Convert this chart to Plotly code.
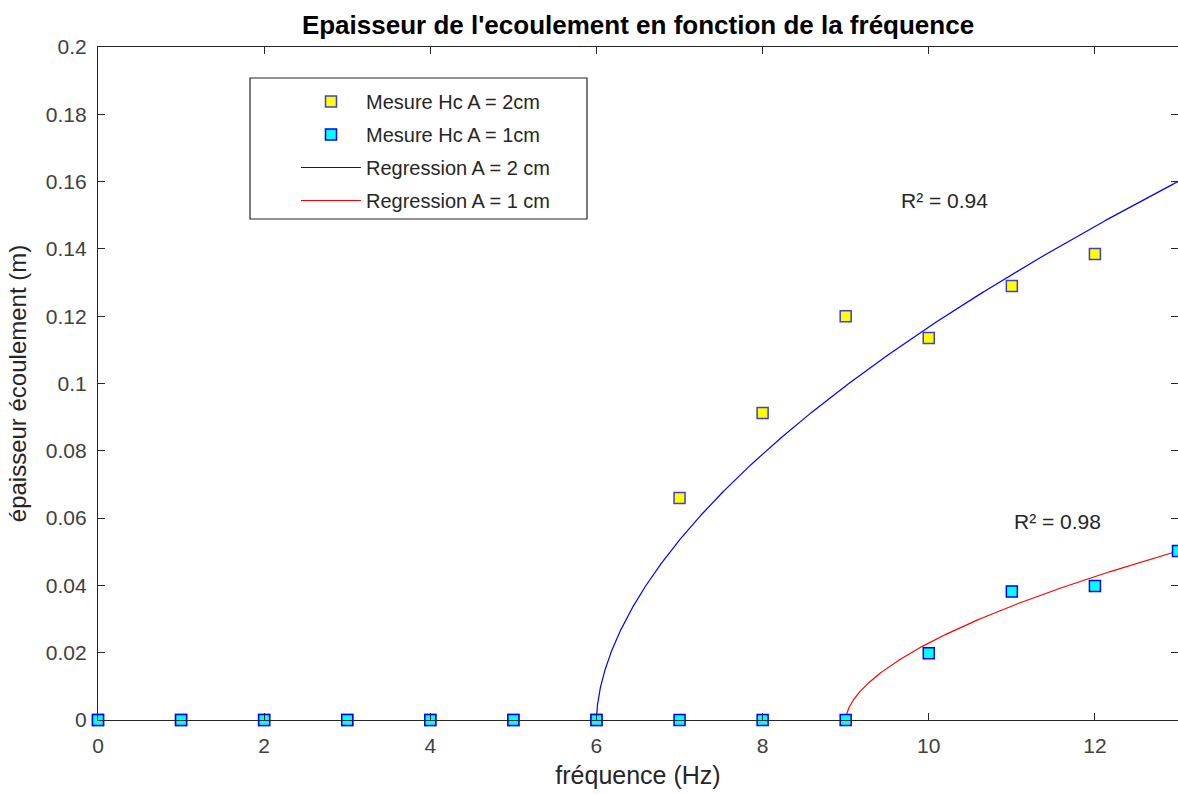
import numpy as np
import plotly.graph_objects as go

# Measured data
freq_2cm = [0, 1, 2, 3, 4, 5, 6, 7, 8, 9, 10, 11, 12]
hc_2cm = [0, 0, 0, 0, 0, 0, 0, 0.066, 0.0912, 0.120, 0.1135, 0.129, 0.1385]
freq_1cm = [0, 1, 2, 3, 4, 5, 6, 7, 8, 9, 10, 11, 12, 13]
hc_1cm = [0, 0, 0, 0, 0, 0, 0, 0, 0, 0, 0.0198, 0.0382, 0.0398, 0.0502]

# Regression parameters: h = a * (f - f0)^p
reg_2cm = dict(a=0.0535, f0=6.0, p=0.563, fmax=13.0)
reg_1cm = dict(a=0.0229, f0=9.0, p=0.566, fmax=13.0)

annot_text = ["R² = 0.94", "R² = 0.98"]
annot_x = [10.19, 11.55]
annot_y = [0.1545, 0.0591]

x_ticks = [0, 2, 4, 6, 8, 10, 12]
y_ticks = [0, 0.02, 0.04, 0.06, 0.08, 0.1, 0.12, 0.14, 0.16, 0.18, 0.2]
y_tick_labels = ["0", "0.02", "0.04", "0.06", "0.08", "0.1", "0.12", "0.14", "0.16", "0.18", "0.2"]


def reg_curve(r):
    t = np.linspace(0, 1, 400) ** 2
    f = r["f0"] + t * (r["fmax"] - r["f0"])
    return f, r["a"] * (f - r["f0"]) ** r["p"]


f2, h2 = reg_curve(reg_2cm)
f1, h1 = reg_curve(reg_1cm)

FONT = "Liberation Sans, Arial, sans-serif"
W, H = 1178, 794
ML, MR, MT, MB = 98, 0, 47, 74
PW, PH = W - ML - MR, H - MT - MB


def px_x(p):
    return (p - ML) / PW


def px_y(p):
    return (H - MB - p) / PH


fig = go.Figure()
fig.add_trace(go.Scatter(
    x=f2, y=h2, mode="lines", name="Regression A = 2 cm", legendrank=3,
    legendgroup="c", line=dict(color="#0000ff", width=1.2)))
fig.add_trace(go.Scatter(
    x=f1, y=h1, mode="lines", name="Regression A = 1 cm", legendrank=4,
    legendgroup="d", line=dict(color="#ff0000", width=1.2)))
fig.add_trace(go.Scatter(
    x=freq_2cm, y=hc_2cm, mode="markers", name="Mesure Hc A = 2cm", legendrank=1,
    legendgroup="a", cliponaxis=False,
    marker=dict(symbol="square", size=11, color="#ffff00",
                line=dict(color="#4040c8", width=1.5))))
fig.add_trace(go.Scatter(
    x=freq_1cm, y=hc_1cm, mode="markers", name="Mesure Hc A = 1cm", legendrank=2,
    legendgroup="b", cliponaxis=False,
    marker=dict(symbol="square", size=11, color="#00ffff",
                line=dict(color="#0000ff", width=1.5))))

for t, x, y in zip(annot_text, annot_x, annot_y):
    fig.add_annotation(x=x, y=y, text=t, showarrow=False,
                       font=dict(family=FONT, size=21, color="#262626"))

# legend frame
fig.add_shape(type="rect", xref="paper", yref="paper",
              x0=px_x(250), x1=px_x(587), y0=px_y(219), y1=px_y(78),
              line=dict(color="#262626", width=1.2), fillcolor="white", layer="above")

axis_common = dict(
    showgrid=False, zeroline=False, showline=True, linecolor="#262626",
    linewidth=1.2, mirror="ticks", ticks="inside", ticklen=7,
    tickcolor="#262626", tickfont=dict(family=FONT, size=21, color="#404040"),
)

fig.update_layout(
    width=W, height=H,
    paper_bgcolor="white", plot_bgcolor="white",
    margin=dict(l=ML, r=MR, t=MT, b=MB, autoexpand=False),
    title=dict(text="<b>Epaisseur de l'ecoulement en fonction de la fréquence</b>",
               x=(ML + W) / 2 / W, xanchor="center", y=1 - 25 / H, yanchor="middle",
               font=dict(family=FONT, size=26, color="#000000")),
    xaxis=dict(range=[0, 13], tickvals=x_ticks, ticklabelstandoff=7,
               title=dict(text="fréquence (Hz)", standoff=10,
                          font=dict(family=FONT, size=25, color="#262626")),
               **axis_common),
    yaxis=dict(range=[0, 0.2], tickvals=y_ticks, ticktext=y_tick_labels,
               ticklabelstandoff=6,
               title=dict(text="épaisseur écoulement (m)", standoff=12,
                          font=dict(family=FONT, size=24, color="#262626")),
               **axis_common),
    legend=dict(x=px_x(296), y=px_y(82), xanchor="left", yanchor="top",
                bgcolor="rgba(0,0,0,0)", borderwidth=0,
                font=dict(family=FONT, size=20, color="#262626"),
                traceorder="grouped", itemwidth=60, tracegroupgap=4),
    showlegend=True,
)

fig.write_html("out.html", config={"displayModeBar": False},
               post_script="document.body.style.margin='0';")
